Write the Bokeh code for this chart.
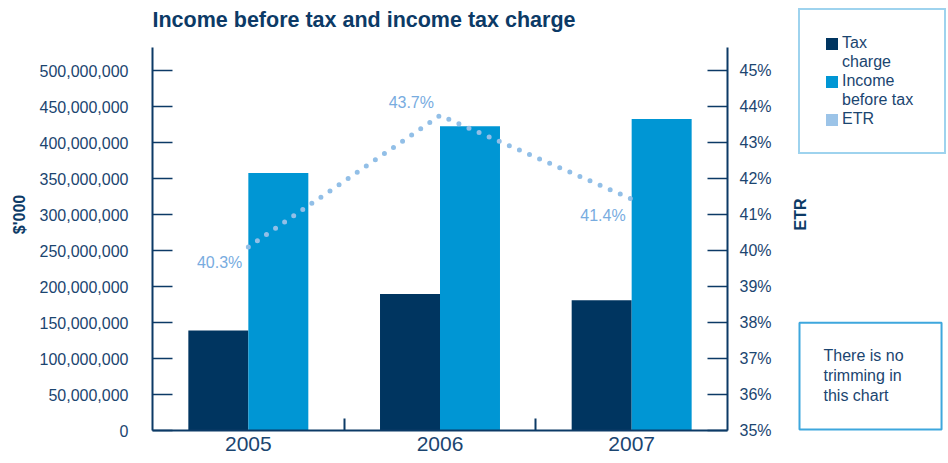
import math
from bokeh.plotting import figure
from bokeh.models import (ColumnDataSource, Range1d, FixedTicker,
                          NumeralTickFormatter, PrintfTickFormatter, Legend, LegendItem,
                          Label, LabelSet, LinearAxis)
from bokeh.core.properties import value
from bokeh.transform import dodge
from bokeh.embed import file_html
from bokeh.resources import INLINE

# ---- data ----
years = ["2005", "2006", "2007"]
tax_charge = [139_000_000, 189_500_000, 181_000_000]
income_before_tax = [357_500_000, 422_500_000, 432_500_000]
etr_pct = [40.1, 43.75, 41.43]
etr_labels = ["40.3%", "43.7%", "41.4%"]
left_ticks = list(range(0, 500_000_001, 50_000_000))
right_ticks = list(range(35, 46))
title_text = "Income before tax and income tax charge"
note_text = "There is no\ntrimming in\nthis chart"

# ---- style ----
NAVY = "#0c3a66"
TEXT = "#1b4570"
TAX_C = "#003560"
INC_C = "#0096d4"
ETR_C = "#92bfe7"
ETR_SW = "#9cc4e8"
ETR_TXT = "#78acdf"
BOX_C = "#3ea7dd"
FONT = "Liberation Sans"

# ---- layout geometry (pixels on the 948x463 canvas) ----
W, H = 948, 463
PL, PR, PT, PB = 152, 727, 47, 430      # axes box
Y_TOP_TICK_PX = 70                       # pixel row of the 500M / 45% tick
n = len(years)
ux = (PR - PL) / n                       # px per category slot
uy = (PB - Y_TOP_TICK_PX) / left_ticks[-1]
ue = (PB - Y_TOP_TICK_PX) / (right_ticks[-1] - right_ticks[0])

centres = [i + 0.5 for i in range(n)]
bounds = [float(i) for i in range(1, n)]

p = figure(width=W, height=H,
           x_range=Range1d(-PL / ux, n + (W - PR) / ux),
           y_range=Range1d(-(H - PB) / uy, PB / uy),
           output_backend="svg", toolbar_location=None, min_border=0)
p.extra_y_ranges = {"etr": Range1d(right_ticks[0] - (H - PB) / ue, right_ticks[0] + PB / ue)}
p.outline_line_color = None
p.grid.grid_line_color = None
p.background_fill_color = "white"
p.border_fill_color = "white"


def style_axis(ax, size="16px"):
    ax.axis_line_color = NAVY
    ax.axis_line_width = 2
    ax.major_tick_line_color = NAVY
    ax.major_tick_line_width = 1.5
    ax.major_tick_in = 20
    ax.major_tick_out = 0
    ax.minor_tick_line_color = None
    ax.major_label_text_font = FONT
    ax.major_label_text_font_size = size
    ax.major_label_text_color = TEXT


# left axis
ly = p.yaxis[0]
ly.ticker = FixedTicker(ticks=left_ticks)
ly.formatter = NumeralTickFormatter(format="0,0")
style_axis(ly)
ly.major_label_standoff = 24
ly.fixed_location = 0
ly.bounds = (0, (PB - PT) / uy)

# right axis
ry = LinearAxis(y_range_name="etr", ticker=FixedTicker(ticks=right_ticks),
                formatter=PrintfTickFormatter(format="%d%%"))
style_axis(ry)
ry.major_label_standoff = 12
ry.fixed_location = n
ry.bounds = (right_ticks[0], right_ticks[0] + (PB - PT) / ue)
p.add_layout(ry, "right")

# bottom axis: labels at category centres, ticks at boundaries
bx = p.xaxis[0]
bx.ticker = FixedTicker(ticks=centres, minor_ticks=bounds)
bx.major_label_overrides = {c: y for c, y in zip(centres, years)}
style_axis(bx, "21px")
bx.major_tick_line_color = None
bx.major_tick_in = 0
bx.minor_tick_line_color = NAVY
bx.minor_tick_line_width = 2
bx.minor_tick_in = 12
bx.minor_tick_out = 0
bx.major_label_standoff = 6
bx.fixed_location = 0
bx.bounds = (0, n)

# bars
src = ColumnDataSource(dict(x=centres, year=years, tax=tax_charge, income=income_before_tax))
r_tax = p.vbar(x=dodge("x", -0.1565), top="tax", width=0.313,
               source=src, fill_color=TAX_C, line_color=None)
r_inc = p.vbar(x=dodge("x", 0.1565), top="income", width=0.313,
               source=src, fill_color=INC_C, line_color=None)

# ETR line
peak = max(etr_pct)
esrc = ColumnDataSource(dict(x=centres, year=years, etr=etr_pct, label=etr_labels,
                             yoff=[13 if v == peak else -16 for v in etr_pct]))
p.line(x="x", y="etr", source=esrc, y_range_name="etr", line_color=ETR_C,
       line_width=5, line_dash="0 11", line_cap="round")
p.add_layout(LabelSet(x="x", y="etr", text="label", source=esrc, y_range_name="etr",
                      x_offset=-6, y_offset="yoff", text_align="right", text_baseline="middle",
                      text_font=value(FONT), text_font_size="16px", text_color=ETR_TXT))

# legend swatch for ETR: square patch for the ETR series (hidden on the plot)
r_etr_sw = p.vbar(x="x", top="etr", source=esrc, y_range_name="etr", width=0.3,
                  fill_color=ETR_SW, line_color=None, visible=False)
# transparent swatch for the wrapped second line of a legend label
r_blank = p.vbar(x="x", top="etr", source=esrc, y_range_name="etr", width=0.3,
                 fill_alpha=0, line_color=None, visible=False)

legend = Legend(items=[LegendItem(label="Tax", renderers=[r_tax]),
                       LegendItem(label="charge", renderers=[r_blank]),
                       LegendItem(label="Income", renderers=[r_inc]),
                       LegendItem(label="before tax", renderers=[r_blank]),
                       LegendItem(label="ETR", renderers=[r_etr_sw])],
                location=(798, H - 154), padding=24, spacing=1,
                glyph_width=15, glyph_height=15, label_height=18, label_width=78,
                label_standoff=3, label_text_font=FONT, label_text_font_size="16px",
                label_text_color=TEXT, border_line_color=BOX_C, border_line_width=2,
                background_fill_color="white", background_fill_alpha=1.0, margin=0)
p.add_layout(legend, "center")

# note box
p.add_layout(Label(x=799, y=H - 429, x_units="screen", y_units="screen", text=note_text,
                   text_font=FONT, text_font_size="16px", text_color=TEXT,
                   border_line_color=BOX_C, border_line_width=2,
                   background_fill_color="white", padding=(24, 38, 24, 25)))

# title
p.add_layout(Label(x=PL, y=H - 19.5, x_units="screen", y_units="screen", text=title_text,
                   text_align="left", text_baseline="middle",
                   text_font=FONT, text_font_size="21.5px", text_font_style="bold",
                   text_color=NAVY))

# axis titles
p.add_layout(Label(x=19, y=H - 214, x_units="screen", y_units="screen", text="$'000",
                   angle=math.pi / 2, text_align="center", text_baseline="middle",
                   text_font=FONT, text_font_size="16px", text_font_style="bold",
                   text_color=NAVY))
p.add_layout(Label(x=800, y=H - 214, x_units="screen", y_units="screen", text="ETR",
                   angle=math.pi / 2, text_align="center", text_baseline="middle",
                   text_font=FONT, text_font_size="16px", text_font_style="bold",
                   text_color=NAVY))

open("out.html", "w").write(file_html(p, INLINE))
